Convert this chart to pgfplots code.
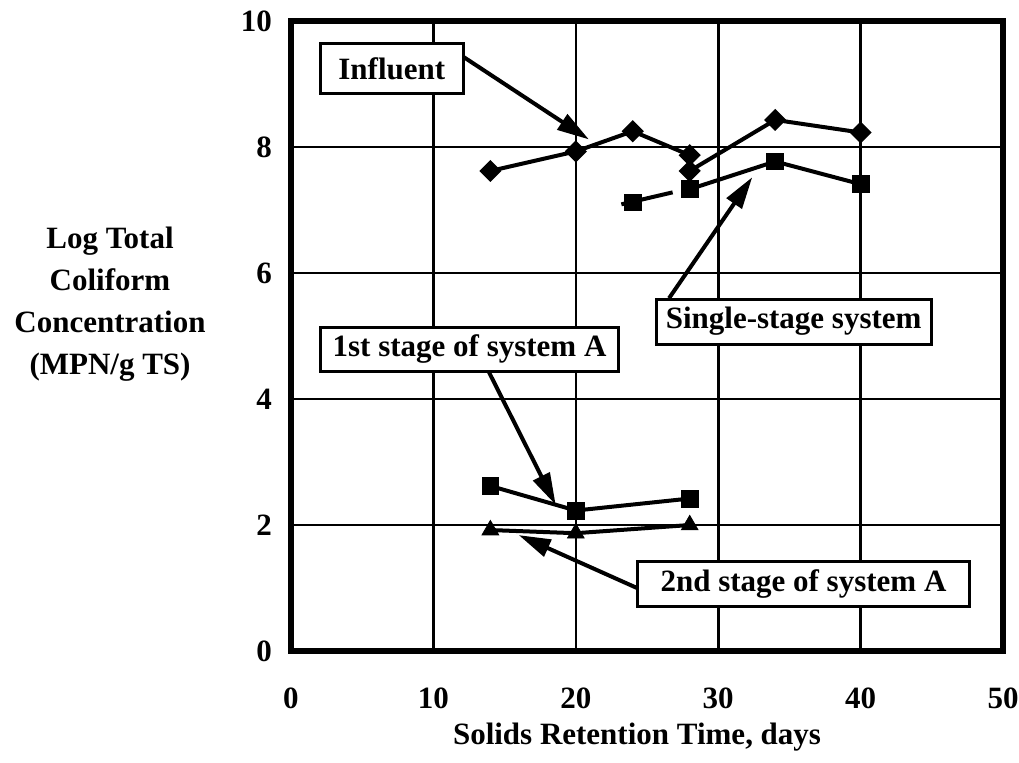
\documentclass[border=0pt]{standalone}
\usepackage{fontspec}
\setmainfont{Liberation Serif}
\usepackage{pgfplots}
\pgfplotsset{compat=1.18}
\usetikzlibrary{arrows.meta}

\begin{document}
\begin{tikzpicture}[font=\fontsize{15.5}{21}\selectfont\bfseries]
\begin{axis}[
  scale only axis,
  width=356pt, height=315pt,
  xmin=0, xmax=50, ymin=0, ymax=10,
  xtick={0,10,...,50}, ytick={0,2,...,10},
  grid=major,
  grid style={black, line width=1.3pt},
  axis line style={line width=2.6pt},
  major tick length=0pt,
  /pgf/number format/assume math mode=true,
  xticklabel style={yshift=-15pt},
  yticklabel style={xshift=-6pt},
  clip=false,
  every axis plot/.append style={black, line width=2pt, mark options={solid, line width=0.4pt}},
]
% influent
\addplot[mark=square*, mark size=2.9pt, mark options={rotate=45}] coordinates {(14,7.62) (20,7.93) (24,8.25) (28,7.87)};
\addplot[mark=square*, mark size=2.9pt, mark options={rotate=45}] coordinates {(28,7.62) (34,8.43) (40,8.23)};
% single-stage system
\addplot[mark=square*, mark size=4.2pt] coordinates {(24,7.12)};
\addplot[no marks] coordinates {(23.2,7.09) (26.8,7.28)};
\addplot[mark=square*, mark size=4.2pt] coordinates {(28,7.33) (34,7.77) (40,7.41)};
% 1st stage of system A
\addplot[mark=square*, mark size=4.2pt] coordinates {(14,2.62) (20,2.23) (28,2.42)};
% 2nd stage of system A
\addplot[mark=triangle*, mark size=4.8pt] coordinates {(14,1.92) (20,1.87) (28,2.0)};

\tikzset{lbl/.style={draw, line width=1.5pt, fill=white, inner sep=0pt},
         arr/.style={line width=2pt, -{Triangle[length=16pt,width=9pt]}}}
\draw[arr] (axis cs:12.11,9.43) -- (axis cs:20.92,8.12);
\draw[arr] (axis cs:26.55,5.60) -- (axis cs:32.39,7.52);
\draw[arr] (axis cs:13.87,4.44) -- (axis cs:18.59,2.32);
\draw[arr] (axis cs:24.30,1.00) -- (axis cs:15.99,1.84);

\node[lbl, minimum width=71.5pt, minimum height=25pt] at (axis cs:7.08,9.24) {Influent};
\node[lbl, minimum width=137.5pt, minimum height=22.5pt] at (axis cs:35.3,5.23) {Single-stage system};
\node[lbl, minimum width=149pt, minimum height=22pt] at (axis cs:12.54,4.79) {1st stage of system A};
\node[lbl, minimum width=166pt, minimum height=22.5pt] at (axis cs:35.99,1.06) {2nd stage of system A};

\node[align=center] at (axis cs:-12.71,5.51) {Log Total\\Coliform\\Concentration\\(MPN/g TS)};
\node at (axis cs:24.3,-1.365) {Solids Retention Time, days};

\coordinate (sw) at (rel axis cs:0,0);
\coordinate (ne) at (rel axis cs:1,1);
\end{axis}
\pgfresetboundingbox
\path ([xshift=-145.5pt,yshift=-55.5pt]sw) rectangle ([xshift=8pt,yshift=10.5pt]ne);
\end{tikzpicture}
\end{document}
